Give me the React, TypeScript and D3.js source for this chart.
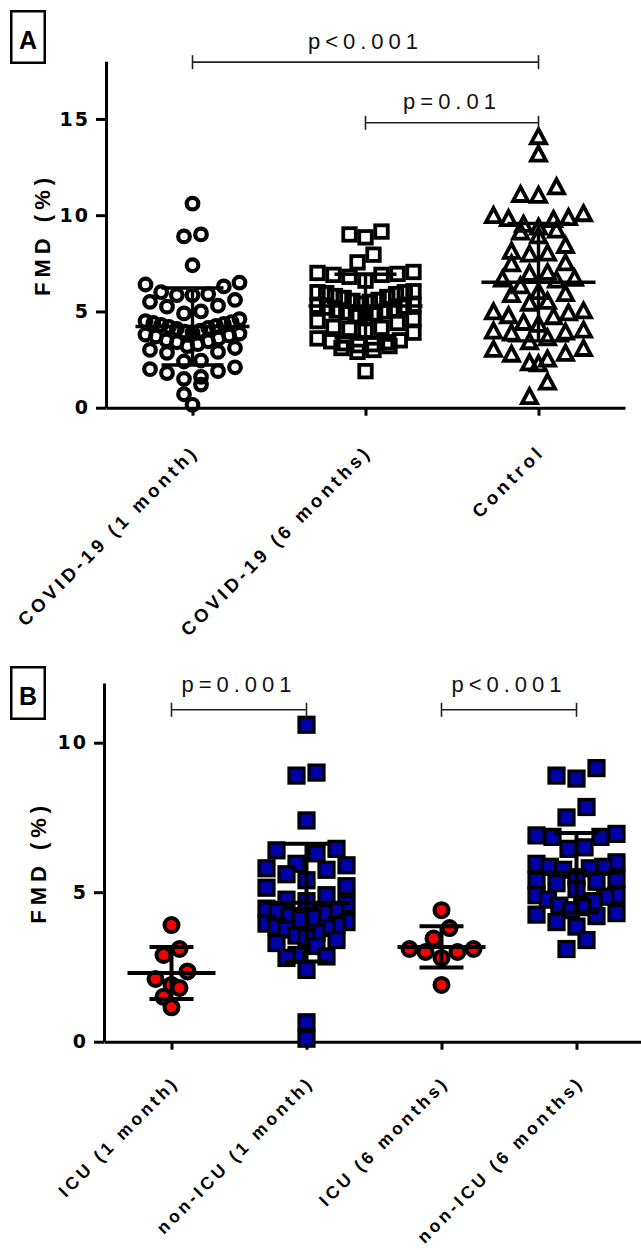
import { useEffect, useRef } from 'react';
import * as d3 from 'd3';

const FONT = '"Liberation Sans", Arial, Helvetica, sans-serif';
const NUM_FONT = '"DejaVu Sans", "Liberation Sans", Arial, sans-serif';

// ---- panel A: all patients vs controls ----
const groupsA = ['COVID-19 (1 month)', 'COVID-19 (6 months)', 'Control'];
const covid1m = [
  10.6, 9.0, 8.9, 7.4, 6.5, 6.4, 6.3, 6.0, 5.9, 5.85, 5.85, 5.6, 5.5, 5.3, 5.25, 5.0, 4.9,
  4.6, 4.5, 4.45, 4.4, 4.35, 4.3, 4.25, 4.2, 4.15, 4.1, 4.0, 3.95, 3.9, 3.85, 3.8, 3.75, 3.7,
  3.6, 3.5, 3.45, 3.4, 3.3, 3.2, 3.1, 3.0, 2.9, 2.85, 2.45, 2.4, 2.1, 2.0, 1.9, 1.8, 1.6, 1.5,
  1.2, 0.7, 0.15,
];
const covid6m = [
  9.15, 9.0, 8.85, 7.95, 7.55, 7.05, 7.0, 6.95, 6.9, 6.9, 6.8, 6.6, 6.05, 6.0, 6.0, 5.95, 5.9,
  5.8, 5.75, 5.7, 5.6, 5.55, 5.5, 5.4, 5.35, 5.3, 5.25, 5.2, 5.1, 5.05, 5.0, 4.95, 4.9, 4.8,
  4.7, 4.6, 4.5, 4.4, 4.2, 4.15, 4.1, 4.0, 3.9, 3.6, 3.5, 3.45, 3.4, 3.35, 3.3, 3.25, 3.2, 3.1,
  3.0, 2.9, 1.9,
];
const control = [
  14.05, 13.15, 11.45, 11.05, 11.0, 10.05, 9.95, 9.85, 9.8, 9.75, 9.5, 9.35, 9.2, 9.1, 8.9,
  8.4, 8.1, 8.0, 7.95, 7.5, 7.45, 7.0, 6.95, 6.7, 6.65, 6.6, 6.3, 6.0, 5.9, 5.85, 5.5, 5.4,
  5.0, 4.95, 4.9, 4.75, 4.7, 4.4, 4.3, 4.0, 3.95, 3.9, 3.85, 3.6, 3.4, 3.05, 3.0, 2.8, 2.75,
  2.5, 2.3, 2.25, 1.3, 0.55,
];
const meansA = [4.22, 5.28, 6.52];
const sdsA = [2.0, 1.65, 3.05];
const ticksA = [0, 5, 10, 15];
const bracketsA = [
  { label: 'p<0.001', from: 0, to: 2, level: 17.95 },
  { label: 'p=0.01', from: 1, to: 2, level: 14.8 },
];

// ---- panel B: ICU vs non-ICU ----
const groupsB = ['ICU (1 month)', 'non-ICU (1 month)', 'ICU (6 months)', 'non-ICU (6 months)'];
const icu1m = [3.9, 3.1, 2.9, 2.35, 2.1, 1.9, 1.8, 1.5, 1.15];
const nonIcu1m = [
  10.6, 9.0, 8.9, 7.4, 6.45, 6.4, 6.3, 5.95, 5.9, 5.8, 5.75, 5.6, 5.4, 5.2, 5.15, 4.9, 4.75,
  4.7, 4.6, 4.45, 4.4, 4.35, 4.3, 4.2, 4.15, 4.1, 4.0, 3.95, 3.9, 3.85, 3.8, 3.75, 3.65, 3.55,
  3.5, 3.4, 3.3, 3.2, 2.9, 2.85, 2.8, 2.4, 0.65, 0.1,
];
const icu6m = [4.4, 3.8, 3.45, 3.1, 3.1, 3.0, 3.0, 2.8, 1.9];
const nonIcu6m = [
  9.15, 8.9, 8.8, 7.85, 7.5, 6.95, 6.9, 6.85, 6.85, 6.5, 6.45, 6.0, 5.95, 5.85, 5.85, 5.8,
  5.75, 5.5, 5.45, 5.4, 5.35, 5.3, 5.1, 4.9, 4.9, 4.85, 4.75, 4.7, 4.55, 4.5, 4.4, 4.3, 4.25,
  4.2, 4.0, 3.85, 3.4, 3.1,
];
const meansB = [2.3, 4.65, 3.17, 5.65];
const sdsB = [0.87, 1.97, 0.69, 1.33];
const ticksB = [0, 5, 10];
const bracketsB = [
  { label: 'p=0.001', from: 0, to: 1, level: 11.1 },
  { label: 'p<0.001', from: 2, to: 3, level: 11.1 },
];

type Marker = {
  shape: 'circle' | 'square' | 'triangle';
  fill: string;
  size: number;
  stroke: number;
  rowHeight: number;
  gap: number;
  spread: number;
};

const OPEN_CIRCLE: Marker = { shape: 'circle', fill: 'none', size: 5.8, stroke: 4.2, rowHeight: 14, gap: 17, spread: 47 };
const OPEN_SQUARE: Marker = { shape: 'square', fill: 'none', size: 12.5, stroke: 3.8, rowHeight: 13, gap: 16, spread: 48 };
const OPEN_TRIANGLE: Marker = { shape: 'triangle', fill: 'none', size: 7.5, stroke: 3.8, rowHeight: 15, gap: 18, spread: 45 };
const RED_DOT: Marker = { shape: 'circle', fill: '#ff0000', size: 7, stroke: 4, rowHeight: 14, gap: 16, spread: 35 };
const BLUE_SQUARE: Marker = { shape: 'square', fill: '#0000a8', size: 15, stroke: 3.2, rowHeight: 16, gap: 20, spread: 40 };

// Prism-like scatter: points with close values share a row, lowest value in the
// middle, rows squeezed when they would get wider than the column
function rowOffsets(values: number[], y: d3.ScaleLinear<number, number>, m: Marker) {
  const order = d3.range(values.length).sort((a, b) => values[b] - values[a]);
  const out = new Array(values.length).fill(0);
  let i = 0;
  while (i < order.length) {
    const top = y(values[order[i]]);
    let j = i;
    while (j < order.length && y(values[order[j]]) - top < m.rowHeight) j++;
    const row = order.slice(i, j).sort((a, b) => values[a] - values[b]);
    const n = row.length;
    const sp = n > 1 ? Math.min(m.gap, (2 * m.spread) / (n - 1)) : 0;
    const slots = d3
      .range(n)
      .map((k) => (k - (n - 1) / 2) * sp)
      .sort((a, b) => Math.abs(a) - Math.abs(b) || a - b);
    row.forEach((idx, k) => {
      out[idx] = slots[k];
    });
    i = j;
  }
  return out;
}

interface PanelCfg {
  letter: string;
  boxTop: number;
  categories: string[];
  series: number[][];
  markers: Marker[];
  means: number[];
  sds: number[];
  yMax: number;
  yRange: [number, number];
  xRange: [number, number];
  ticks: number[];
  brackets: { label: string; from: number; to: number; level: number }[];
  meanHalf: number;
  capHalf: number;
  barStroke: number;
  titleX: number;
  textGap: number;
  labelOffset: [number, number];
  labelSize: number;
  labelSpacing: number;
}

function drawPanel(svg: d3.Selection<SVGSVGElement, unknown, null, undefined>, cfg: PanelCfg) {
  const x = d3.scalePoint<string>().domain(cfg.categories).range(cfg.xRange).padding(0.5);
  const y = d3.scaleLinear().domain([0, cfg.yMax]).range(cfg.yRange);
  const g = svg.append('g');
  const x0 = cfg.xRange[0];
  const y0 = cfg.yRange[0];

  // panel letter
  g.append('rect')
    .attr('x', 11.25).attr('y', cfg.boxTop + 1.25)
    .attr('width', 33.5).attr('height', 51.5)
    .attr('fill', 'none').attr('stroke', '#000').attr('stroke-width', 2.5);
  g.append('text')
    .attr('x', 28).attr('y', cfg.boxTop + 39)
    .attr('text-anchor', 'middle')
    .attr('font-family', FONT).attr('font-weight', 700).attr('font-size', 25)
    .text(cfg.letter);

  // y axis
  const yAxis = g.append('g')
    .attr('transform', `translate(${x0},0)`)
    .call(d3.axisLeft(y).tickValues(cfg.ticks).tickSize(10).tickSizeOuter(0).tickPadding(6).tickFormat(d3.format('d')));
  yAxis.select('.domain').attr('stroke-width', 3);
  yAxis.selectAll('.tick line').attr('stroke-width', 3);
  yAxis.selectAll('.tick text')
    .attr('font-family', NUM_FONT).attr('font-weight', 700).attr('font-size', 19)
    .attr('letter-spacing', 2).attr('fill', '#000');

  // x axis
  const xAxis = g.append('g')
    .attr('transform', `translate(0,${y0})`)
    .call(d3.axisBottom(x).tickSize(8).tickSizeOuter(0));
  xAxis.select('.domain').attr('stroke-width', 3);
  xAxis.selectAll('.tick line').attr('stroke-width', 3);
  xAxis.selectAll('.tick text')
    .attr('x', 0).attr('y', 0).attr('dy', null)
    .attr('text-anchor', 'end')
    .attr('transform', `translate(${cfg.labelOffset[0]},${cfg.labelOffset[1]}) rotate(-45)`)
    .attr('font-family', FONT).attr('font-weight', 700).attr('font-size', cfg.labelSize)
    .attr('letter-spacing', cfg.labelSpacing).attr('fill', '#000')
    .attr('style', 'white-space: pre');
  yAxis.raise();

  // y title
  g.append('text')
    .attr('transform', `translate(${cfg.titleX},${(cfg.yRange[0] + cfg.yRange[1]) / 2}) rotate(-90)`)
    .attr('text-anchor', 'middle')
    .attr('font-family', FONT).attr('font-weight', 700).attr('font-size', 22)
    .attr('letter-spacing', 5)
    .text('FMD (%)');

  // points
  cfg.series.forEach((vals, gi) => {
    const m = cfg.markers[gi];
    const cx = x(cfg.categories[gi]) as number;
    const offs = rowOffsets(vals, y, m);
    const pts = g.append('g');
    vals.forEach((v, i) => {
      const px = cx + offs[i];
      const py = y(v);
      if (m.shape === 'circle') {
        pts.append('circle').attr('cx', px).attr('cy', py).attr('r', m.size)
          .attr('fill', m.fill).attr('stroke', '#000').attr('stroke-width', m.stroke);
      } else if (m.shape === 'square') {
        pts.append('rect').attr('x', px - m.size / 2).attr('y', py - m.size / 2)
          .attr('width', m.size).attr('height', m.size)
          .attr('fill', m.fill).attr('stroke', '#000').attr('stroke-width', m.stroke);
      } else {
        const s = m.size;
        pts.append('path')
          .attr('d', `M${px},${py - s * 1.07}L${px + s},${py + s * 0.8}L${px - s},${py + s * 0.8}Z`)
          .attr('fill', m.fill).attr('stroke', '#000').attr('stroke-width', m.stroke)
          .attr('stroke-linejoin', 'miter');
      }
    });
  });

  // mean +/- SD
  cfg.means.forEach((mean, gi) => {
    const cx = x(cfg.categories[gi]) as number;
    const sd = cfg.sds[gi];
    const bars = g.append('g').attr('stroke', '#000').attr('stroke-width', cfg.barStroke);
    bars.append('line').attr('x1', cx).attr('x2', cx).attr('y1', y(mean + sd)).attr('y2', y(mean - sd));
    bars.append('line').attr('x1', cx - cfg.meanHalf).attr('x2', cx + cfg.meanHalf).attr('y1', y(mean)).attr('y2', y(mean));
    [mean + sd, mean - sd].forEach((v) => {
      bars.append('line').attr('x1', cx - cfg.capHalf).attr('x2', cx + cfg.capHalf).attr('y1', y(v)).attr('y2', y(v));
    });
  });

  // significance brackets
  cfg.brackets.forEach((b) => {
    const xa = x(cfg.categories[b.from]) as number;
    const xb = x(cfg.categories[b.to]) as number;
    const yy = y(b.level);
    const br = g.append('g').attr('stroke', '#222').attr('stroke-width', 1.6);
    br.append('line').attr('x1', xa).attr('x2', xb).attr('y1', yy).attr('y2', yy);
    br.append('line').attr('x1', xa).attr('x2', xa).attr('y1', yy - 7).attr('y2', yy + 7);
    br.append('line').attr('x1', xb).attr('x2', xb).attr('y1', yy - 7).attr('y2', yy + 7);
    g.append('text')
      .attr('x', (xa + xb) / 2).attr('y', yy - cfg.textGap)
      .attr('text-anchor', 'middle')
      .attr('font-family', FONT).attr('font-size', 22).attr('letter-spacing', 5)
      .attr('fill', '#111')
      .text(b.label);
  });
}

export default function App() {
  const svgRef = useRef<SVGSVGElement>(null);

  useEffect(() => {
    if (!svgRef.current) return;
    const svg = d3.select(svgRef.current);
    svg.selectAll('*').remove();

    drawPanel(svg, {
      letter: 'A',
      boxTop: 10,
      categories: groupsA,
      series: [covid1m, covid6m, control],
      markers: [OPEN_CIRCLE, OPEN_SQUARE, OPEN_TRIANGLE],
      means: meansA,
      sds: sdsA,
      yMax: 18,
      yRange: [407.7, 61.2],
      xRange: [106, 625],
      ticks: ticksA,
      brackets: bracketsA,
      meanHalf: 57,
      capHalf: 31,
      barStroke: 3.4,
      titleX: 50,
      textGap: 13.5,
      labelOffset: [7, 45],
      labelSize: 18.5,
      labelSpacing: 4,
    });

    drawPanel(svg, {
      letter: 'B',
      boxTop: 666,
      categories: groupsB,
      series: [icu1m, nonIcu1m, icu6m, nonIcu6m],
      markers: [RED_DOT, BLUE_SQUARE, RED_DOT, BLUE_SQUARE],
      means: meansB,
      sds: sdsB,
      yMax: 12,
      yRange: [1041.7, 682.9],
      xRange: [104, 644],
      ticks: ticksB,
      brackets: bracketsB,
      meanHalf: 44,
      capHalf: 22,
      barStroke: 4,
      titleX: 46,
      textGap: 18,
      labelOffset: [8, 42],
      labelSize: 17.5,
      labelSpacing: 3.6,
    });
  }, []);

  return (
    <svg
      ref={svgRef}
      width={641}
      height={1250}
      style={{ position: 'absolute', left: 0, top: 0, background: '#fff' }}
    />
  );
}
